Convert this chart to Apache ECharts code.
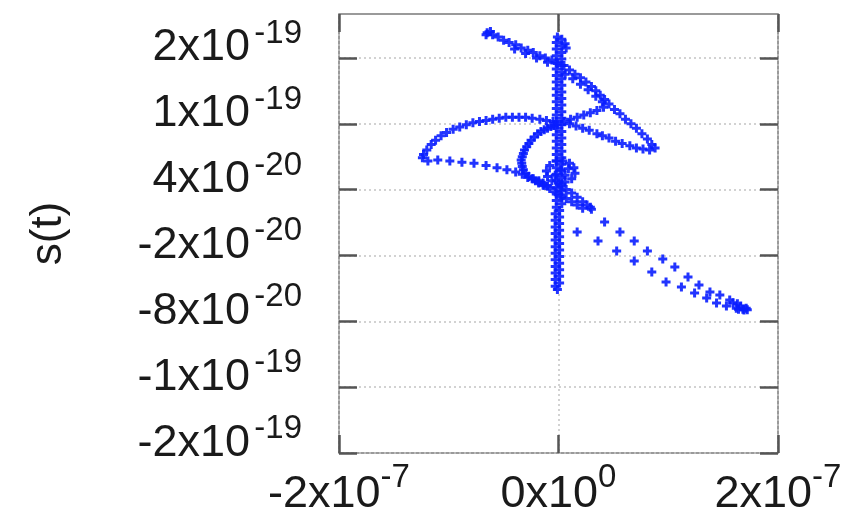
<!DOCTYPE html>
<html>
<head>
<meta charset="utf-8">
<script src="https://cdn.jsdelivr.net/npm/echarts@6/dist/echarts.min.js"></script>
<style>
  html, body { margin: 0; padding: 0; background: #fff; }
  #chart { width: 867px; height: 513px; }
</style>
</head>
<body>
<div id="chart"></div>
<script>
// units: x in 1e-8, y in 1e-20
const xTickVals = [-20, 0, 20];
const xTickBase = ['-2x10', '0x10', '2x10'];
const xTickExp = ['-7', '0', '-7'];
const yTickVals = [-20, -14, -8, -2, 4, 10, 16];
const yTickBase = ['-2x10', '-1x10', '-8x10', '-2x10', '4x10', '1x10', '2x10'];
const yTickExp = ['-19', '-19', '-20', '-20', '-20', '-19', '-19'];

// top arc, starting upper left
const arcPts = [
    [-6.6, 18.1], [-6.5, 18.3], [-6.2, 18.4], [-6.0, 18.1], [-5.5, 17.9], [-5.0, 17.6],
    [-4.5, 17.4], [-3.9, 17.2], [-3.4, 16.9], [-2.8, 16.7], [-2.3, 16.5], [-1.7, 16.2],
    [-1.2, 16.0], [-0.6, 15.8], [-0.1, 15.5], [0.5, 15.3], [1.0, 14.9], [1.5, 14.5],
    [2.0, 14.2], [2.5, 13.8], [3.0, 13.4], [3.4, 13.0], [3.8, 12.6], [4.2, 12.2], [4.6, 11.8],
    [-4.0, 16.8], [-3.0, 16.4], [-2.0, 16.0], [-1.0, 15.6],
    [0.6, 14.5], [1.3, 14.1], [2.0, 13.6], [2.7, 13.1], [3.4, 12.5], [4.0, 12.0]
];
// right triangle: apex -> centre, apex -> right tip, right tip -> centre
const triPts = [
    [4.1, 11.5], [3.5, 11.2], [2.9, 11.0], [2.3, 10.8], [1.7, 10.6], [1.1, 10.4], [0.5, 10.2],
    [5.1, 11.3], [5.6, 10.9], [6.1, 10.4], [6.6, 10.0], [7.1, 9.6], [7.6, 9.1], [8.1, 8.6],
    [8.5, 8.1], [8.8, 7.8],
    [8.3, 7.6], [7.7, 7.7], [7.1, 7.8], [6.5, 8.0], [5.8, 8.2], [5.2, 8.4], [4.6, 8.7],
    [4.0, 8.9], [3.5, 9.1], [2.8, 9.4], [2.2, 9.6], [1.6, 9.8], [1.0, 10.0]
];
// big left loop (upper edge then lower edge)
const loopPts = [
    [-0.5, 10.2], [-1.1, 10.3], [-1.7, 10.4], [-2.4, 10.5], [-3.0, 10.6], [-3.6, 10.6],
    [-4.2, 10.6], [-4.8, 10.6], [-5.4, 10.5], [-6.0, 10.4], [-6.6, 10.3], [-7.2, 10.2],
    [-7.8, 10.1], [-8.4, 9.9], [-9.0, 9.7], [-9.6, 9.5], [-10.2, 9.2], [-10.7, 8.9],
    [-11.2, 8.5], [-11.6, 8.1], [-12.0, 7.6], [-12.3, 7.2], [-12.4, 6.9],
    [-11.9, 6.6], [-11.0, 6.7], [-9.9, 6.6], [-8.8, 6.5], [-7.7, 6.4], [-6.6, 6.2],
    [-5.6, 6.0], [-4.7, 5.8], [-3.9, 5.6], [-3.3, 5.4], [-2.8, 5.1]
];
// small ring left of the vertical bar
const ringPts = [
    [-0.1, 9.9], [-0.4, 9.85], [-0.7, 9.75], [-1.0, 9.6], [-1.3, 9.45], [-1.6, 9.3],
    [-1.9, 9.1], [-2.2, 8.8], [-2.5, 8.5], [-2.7, 8.2], [-2.9, 7.9], [-3.1, 7.6],
    [-3.2, 7.3], [-3.3, 7.0], [-3.4, 6.7], [-3.35, 6.4], [-3.3, 6.1], [-3.2, 5.8],
    [-3.0, 5.5], [-2.7, 5.2], [-2.4, 5.0], [-2.1, 4.8], [-1.8, 4.6], [-1.4, 4.4], [-1.0, 4.3]
];
// dense blob and start of the lower right tail
const blobPts = [
    [-0.2, 6.6], [0.4, 6.6], [1.0, 6.4], [1.4, 6.0], [1.5, 5.5], [1.2, 5.0], [0.6, 4.7],
    [0.0, 4.6], [-0.6, 4.8], [-1.0, 5.2], [-1.1, 5.7], [-0.8, 6.2], [0.2, 5.8], [0.6, 5.3],
    [-0.3, 5.3], [0.9, 5.9], [-1.4, 4.6], [-1.8, 4.8],
    [-2.3, 5.0], [-1.8, 4.7], [-1.3, 4.4], [-0.8, 4.1], [-0.3, 3.8], [0.2, 3.5], [0.7, 3.2],
    [1.2, 2.9], [1.7, 2.6], [2.2, 2.3], [0.2, 4.3], [0.7, 4.0], [1.2, 3.7], [1.7, 3.3],
    [2.2, 2.9], [2.6, 2.6], [2.9, 2.4]
];
// two sparse rows running down to the right
const tailPts = [
    [3.0, 2.2], [4.2, 1.05], [5.6, 0.14], [6.9, -0.68], [8.1, -1.59], [9.5, -2.32],
    [10.6, -3.05], [11.8, -3.96], [12.8, -4.69], [13.8, -5.33], [14.7, -5.6], [15.6, -6.06],
    [16.3, -6.4], [17.1, -6.8],
    [1.7, 0.14], [3.6, -0.68], [5.3, -1.59], [6.9, -2.5], [8.5, -3.5], [9.8, -4.42],
    [11.2, -4.87], [12.4, -5.42], [13.5, -5.88], [14.4, -6.33], [15.3, -6.6], [16.2, -6.8],
    [16.9, -6.97], [15.9, -6.3], [16.6, -6.6], [16.8, -6.9], [17.2, -6.95], [16.4, -6.9]
];
// near-vertical bar at x = 0
const barPts = [
    [-0.1, 17.9], [0.6, 17.3], [0.7, 16.9],
    [-0.2, 17.4], [0.3, 17.7], [-0.2, 16.8], [0.3, 17.1], [-0.2, 16.2], [0.3, 16.5],
    [-0.2, 15.6], [0.3, 15.9], [-0.2, 15.0], [0.3, 15.3], [-0.2, 14.4], [0.3, 14.7],
    [-0.2, 13.8], [0.3, 14.1], [-0.2, 13.2], [0.3, 13.5], [-0.2, 12.6], [0.3, 12.9],
    [-0.2, 12.0], [0.3, 12.3], [-0.2, 11.4], [0.3, 11.7], [-0.2, 10.8], [0.3, 11.1],
    [-0.2, 10.2], [0.3, 10.5], [-0.2, 9.6], [0.3, 9.9], [-0.2, 9.0], [0.3, 9.3],
    [-0.2, 8.4], [0.3, 8.7], [-0.2, 7.8], [0.3, 8.1], [-0.2, 7.2], [0.3, 7.5],
    [-0.2, 6.6], [0.3, 6.9], [-0.2, 6.0], [0.3, 6.3], [-0.2, 5.4], [0.3, 5.7],
    [-0.2, 4.8], [0.3, 5.1], [-0.2, 4.2], [0.3, 4.5], [-0.2, 3.6], [0.3, 3.9],
    [-0.2, 3.0], [0.3, 3.3], [-0.2, 2.4], [0.3, 2.7], [-0.3, 1.8], [0.1, 2.1],
    [-0.3, 1.2], [0.1, 1.5], [-0.3, 0.6], [0.1, 0.9], [-0.3, 0.0], [0.1, 0.3],
    [-0.3, -0.6], [0.1, -0.3], [-0.3, -1.2], [0.1, -0.9], [-0.3, -1.8], [0.1, -1.5],
    [-0.3, -2.4], [0.1, -2.1], [-0.3, -3.0], [0.1, -2.7], [-0.3, -3.6], [0.1, -3.3],
    [-0.3, -4.2], [0.1, -3.9], [-0.3, -4.8], [0.1, -4.5], [-0.1, -5.1]
];

const FONT = '"Liberation Sans", Arial, Helvetica, sans-serif';
const BLUE = '#0a1eff';
const TEXT = '#1a1a1a';
const PLUS = 'path://M3,0H6V3H9V6H6V9H3V6H0V3H3Z';

// x labels: mantissa and raised exponent in one rich line
const xRich = {
    b: {fontSize: 45, fontFamily: FONT, color: TEXT, lineHeight: 45},
    s: {fontSize: 33, fontFamily: FONT, color: TEXT, lineHeight: 33, padding: [0, 0, 33, 0]}
};

function pick(vals, list) {
    return function(v) {
        const i = vals.indexOf(Math.round(v));
        return i < 0 ? '' : list[i];
    };
}

const tickStyle = {
    show: true,
    inside: true,
    length: 18,
    lineStyle: {color: '#555', width: 2.5}
};
const gridLineStyle = {
    show: true,
    lineStyle: {color: '#c4c4c4', width: 1.5, type: [2, 3]}
};
const noLine = {show: false, onZero: false};

// y tick text is split in two label-only axes, slightly shifted upward
// (mantissa ~10px above the tick, exponent ~24px above)
const yLabelAxis = function(shift, list, size, margin) {
    return {
        type: 'value',
        position: 'left',
        min: -20 - shift,
        max: 20 - shift,
        axisLine: noLine,
        axisTick: {show: false},
        splitLine: {show: false},
        axisLabel: {
            margin: margin,
            customValues: yTickVals,
            showMinLabel: true,
            showMaxLabel: true,
            fontSize: size,
            fontFamily: FONT,
            color: TEXT,
            formatter: pick(yTickVals, list)
        }
    };
};

const chart = echarts.init(document.getElementById('chart'));
chart.setOption({
    animation: false,
    grid: {
        left: 339,
        right: 89,
        top: 14,
        bottom: 60,
        show: true,
        outerBoundsMode: 'none',
        containLabel: false,
        borderColor: '#7a7a7a',
        borderWidth: 1.5,
        backgroundColor: 'transparent'
    },
    xAxis: [{
        type: 'value',
        min: -20,
        max: 20,
        interval: 20,
        axisLine: noLine,
        axisTick: tickStyle,
        splitLine: gridLineStyle,
        axisLabel: {
            margin: 19,
            showMinLabel: true,
            showMaxLabel: true,
            formatter: function(v) {
                const i = xTickVals.indexOf(Math.round(v));
                return i < 0 ? '' : '{b|' + xTickBase[i] + '}{s|' + xTickExp[i] + '}';
            },
            rich: xRich
        }
    }, {
        type: 'value',
        position: 'top',
        min: -20,
        max: 20,
        interval: 20,
        axisLine: noLine,
        axisTick: tickStyle,
        splitLine: {show: false},
        axisLabel: {show: false}
    }],
    yAxis: [{
        type: 'value',
        min: -20,
        max: 20,
        name: 's(t)',
        nameLocation: 'middle',
        nameGap: 268,
        nameTextStyle: {fontSize: 44, fontFamily: FONT, color: TEXT},
        axisLine: noLine,
        axisTick: Object.assign({customValues: yTickVals}, tickStyle),
        splitLine: gridLineStyle,
        axisLabel: {show: false}
    }, {
        type: 'value',
        position: 'right',
        min: -20,
        max: 20,
        axisLine: noLine,
        axisTick: Object.assign({customValues: yTickVals}, tickStyle),
        splitLine: {show: false},
        axisLabel: {show: false}
    },
    yLabelAxis(0.9, yTickBase, 45, 89),
    yLabelAxis(2.2, yTickExp, 33, 37)],
    series: [arcPts, triPts, loopPts, ringPts, blobPts, tailPts, barPts].map(function(pts) {
        return {
            type: 'scatter',
            data: pts,
            symbol: PLUS,
            symbolSize: 9,
            itemStyle: {color: BLUE, opacity: 0.9},
            silent: true
        };
    })
});
</script>
</body>
</html>
